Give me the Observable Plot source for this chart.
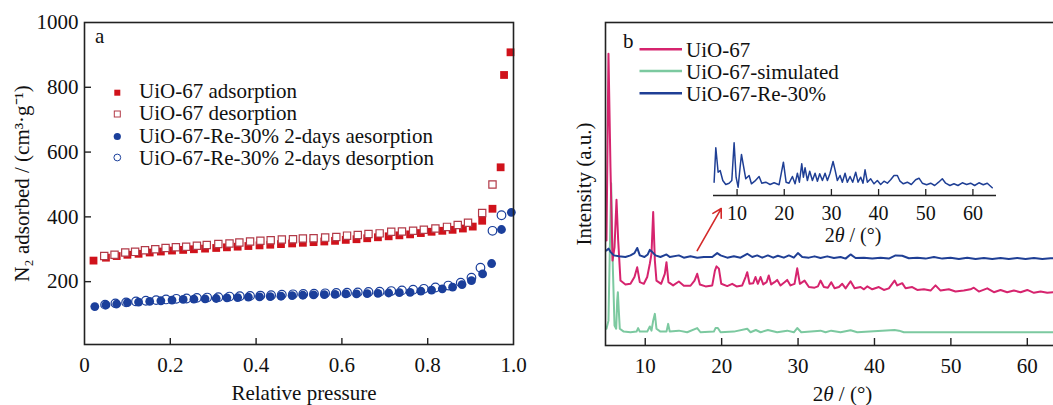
<!DOCTYPE html>
<html><head><meta charset="utf-8">
<script src="https://cdn.jsdelivr.net/npm/d3@7"></script>
<script src="https://cdn.jsdelivr.net/npm/@observablehq/plot@0.6"></script>
<style>
html,body{margin:0;padding:0;background:#fff;overflow:hidden;}
#wrap{position:relative;width:1053px;height:405px;overflow:hidden;font-family:"Liberation Serif","Times New Roman",serif;}
#wrap > div{position:absolute;}
#wrap svg{max-width:none !important;}
#leg{position:absolute;left:0;top:0;pointer-events:none;}
</style></head>
<body><div id="wrap">
<div id="pa" style="left:0;top:0;width:530px;height:405px"></div>
<div id="pb" style="left:530px;top:0;width:543px;height:405px"></div>
<div id="inset" style="left:700px;top:130px;width:310px;height:125px"></div>
<svg id="leg" width="1053" height="405"></svg>
</div>
<script>
// ---------- Panel a: N2 isotherms ----------
const pressureTicks = [0, 0.2, 0.4, 0.6, 0.8, 1.0];
const volumeTicks = [200, 400, 600, 800, 1000];

const uioAdsP = [0.021,0.05,0.075,0.1,0.126,0.152,0.178,0.204,0.23,0.255,0.281,0.307,0.332,0.357,0.382,0.408,0.433,0.458,0.484,0.509,0.534,0.559,0.584,0.609,0.634,0.659,0.684,0.709,0.734,0.759,0.784,0.809,0.834,0.858,0.882,0.905,0.927,0.951,0.970,0.978,0.993];
const uioAdsV = [265,274,279,283,286,290,293,296,298,300,302,304,306,308,310,312,314,316,318,320,322,324,326,329,331,334,337,340,343,346,350,354,357,360,364,370,388,425,553,838,908];

const uioDesP = [0.046,0.07,0.095,0.118,0.141,0.165,0.189,0.213,0.237,0.262,0.285,0.312,0.338,0.361,0.386,0.41,0.434,0.46,0.486,0.509,0.534,0.561,0.587,0.612,0.637,0.662,0.688,0.715,0.74,0.766,0.791,0.818,0.845,0.87,0.894,0.927,0.951];
const uioDesV = [279,283,290,292,297,300,304,306,308,311,313,316,318,321,324,326,328,330,331,333,334,336,338,342,344,347,349,354,355,357,360,364,369,375,382,412,500];

const reAdsP = [0.024,0.05,0.075,0.1,0.126,0.152,0.178,0.204,0.23,0.255,0.281,0.307,0.332,0.357,0.382,0.408,0.433,0.458,0.484,0.509,0.534,0.559,0.584,0.609,0.634,0.659,0.684,0.709,0.734,0.759,0.784,0.809,0.834,0.858,0.88,0.902,0.928,0.949,0.972,0.995];
const reAdsV = [123,128,131,135,137,139,141,143,145,146,147,148,150,151,152,153,154,155,157,158,159,160,161,162,162,163,164,165,166,167,171,174,178,183,191,203,224,256,361,414];

const reDesP = [0.048,0.072,0.097,0.12,0.143,0.167,0.19,0.214,0.238,0.262,0.286,0.312,0.338,0.362,0.386,0.41,0.435,0.46,0.486,0.51,0.535,0.561,0.587,0.612,0.637,0.662,0.688,0.715,0.74,0.766,0.791,0.818,0.848,0.877,0.902,0.923,0.951,0.972];
const reDesV = [129,133,136,139,141,143,145,147,148,150,151,152,154,155,156,157,158,160,161,162,163,164,165,166,167,168,169,171,173,175,178,182,188,197,212,243,357,405];

const seriesA = ["UiO-67 adsorption", "UiO-67 desorption", "UiO-67-Re-30% 2-days aesorption", "UiO-67-Re-30% 2-days desorption"];

// ---------- Panel b: XRD patterns ----------
const angleTicks = [10, 20, 30, 40, 50, 60];
const seriesB = ["UiO-67", "UiO-67-simulated", "UiO-67-Re-30%"];

const xrdUiO = [[4.93,32.5],[5.19,90.3],[5.45,55.2],[5.72,26.3],[5.98,30.4],[6.24,45.1],[6.46,32.5],[6.76,20.1],[7.41,18.9],[8.07,19.1],[8.59,21.2],[8.95,24.2],[9.29,19.6],[9.82,19.1],[10.26,21.2],[10.6,25.3],[10.82,28.4],[11.04,41.3],[11.26,26.3],[11.47,20.1],[12.08,19.1],[12.56,22.2],[12.78,25.8],[13.04,19.6],[13.65,18.6],[14.4,19.8],[15.05,18.5],[15.92,18.5],[16.45,20.1],[16.8,22.2],[17.15,18.9],[17.9,18.3],[18.77,18.6],[19.12,23.2],[19.33,24.5],[19.64,23.8],[19.95,19.1],[20.73,18.4],[21.38,19.1],[21.95,18.3],[22.69,18.6],[23.13,21.2],[23.35,22.7],[23.65,19.1],[24.13,19.3],[24.43,21.2],[24.74,19.1],[25.09,21.2],[25.44,18.9],[25.88,19.6],[26.17,21.7],[26.48,18.9],[26.92,19.6],[27.27,20.3],[27.7,18.6],[28.23,19.6],[28.58,20.3],[29.01,18.6],[29.54,19.1],[29.89,23.9],[30.24,19.1],[30.85,20.1],[31.42,18.1],[32.16,17.9],[32.6,18.3],[32.94,20.1],[33.38,18.1],[33.9,17.9],[34.34,19.6],[34.78,17.7],[35.35,18.1],[35.78,19.1],[36.22,17.7],[36.87,19.9],[37.4,17.7],[38.18,18.1],[38.62,17.4],[39.05,18.3],[39.71,17.4],[40.57,18.1],[41.23,17.2],[41.88,17.7],[42.63,20.1],[42.98,18.6],[43.63,19.3],[44.07,17.7],[44.94,18.1],[45.6,17.2],[46.47,17.4],[47.34,17.0],[47.99,18.6],[48.65,17.0],[49.73,17.4],[50.6,16.7],[51.69,17.0],[52.57,17.4],[53.0,17.9],[53.66,16.7],[54.76,17.7],[55.63,16.5],[56.5,17.2],[57.37,16.5],[58.24,17.0],[59.12,16.5],[60.0,17.2],[60.87,16.3],[61.74,16.7],[62.61,16.3],[63.4,16.5],[64.5,16.4]];

const xrdSimulated = [[4.93,5.2],[5.19,7.7],[5.32,24.2],[5.54,50.2],[5.76,24.2],[5.98,6.2],[6.2,5.2],[6.33,13.9],[6.42,16.5],[6.54,10.8],[6.67,5.2],[7.19,4.3],[8.07,4.1],[8.86,4.3],[9.07,5.4],[9.29,4.3],[10.26,4.3],[10.6,5.9],[10.82,4.6],[11.04,7.7],[11.26,9.8],[11.47,5.2],[11.99,4.3],[12.78,4.3],[13.0,6.7],[13.21,4.3],[14.4,4.6],[15.49,4.1],[16.8,5.4],[17.23,4.1],[18.98,4.3],[19.2,5.4],[19.5,5.4],[19.86,4.1],[21.6,4.3],[23.35,5.2],[23.78,4.1],[24.48,4.8],[25.09,4.1],[26.05,4.8],[27.27,4.1],[28.58,4.6],[29.45,4.1],[29.89,5.4],[30.42,4.1],[32.94,4.6],[33.6,4.1],[34.34,4.6],[35.56,4.1],[36.87,4.7],[37.75,4.1],[42.63,4.8],[43.2,4.6],[43.85,4.1],[47.34,4.1],[51.69,4.1],[56.06,4.1],[60.44,4.1],[63.49,4.1],[64.5,4.1]];

const xrdRe30 = [[4.93,29.4],[5.19,30.0],[5.45,29.0],[5.89,27.9],[6.54,27.6],[7.41,27.4],[8.07,27.9],[8.59,28.6],[8.95,30.2],[9.29,27.9],[9.9,27.4],[10.33,28.2],[10.6,29.6],[10.9,29.0],[11.34,27.9],[11.99,27.4],[12.78,28.2],[13.21,27.4],[14.4,27.9],[15.05,27.2],[15.92,27.6],[16.8,27.2],[17.67,27.4],[18.77,27.4],[19.42,28.6],[19.86,27.9],[20.73,27.2],[21.6,27.6],[22.47,27.2],[23.35,28.4],[24.0,27.4],[24.65,27.9],[25.31,27.2],[26.05,27.9],[26.75,27.2],[27.36,27.8],[28.14,27.2],[28.8,27.9],[29.45,27.2],[29.98,28.6],[30.55,27.4],[31.42,27.2],[32.16,27.6],[32.94,27.1],[33.82,27.6],[34.69,27.1],[35.56,27.4],[36.22,26.9],[36.87,28.2],[37.53,27.1],[38.62,27.2],[39.71,26.9],[40.8,27.2],[41.88,26.9],[42.76,27.9],[43.63,27.8],[44.5,27.0],[45.6,27.2],[46.69,26.9],[47.78,27.4],[48.87,26.9],[49.96,27.2],[51.05,26.8],[52.14,27.2],[53.23,26.8],[54.32,27.1],[55.41,26.8],[56.5,27.1],[57.59,26.8],[58.68,27.1],[59.77,26.8],[60.87,27.1],[61.96,26.8],[63.05,27.0],[64.5,26.9]];

// inset: UiO-67-Re-30% pattern enlarged
const insetTicks = [10, 20, 30, 40, 50, 60];
const insetRe30 = [[5.13,13.3],[5.49,47.7],[5.98,23.3],[6.41,25],[6.97,15],[7.6,11],[8.31,12.3],[8.88,15],[9.37,52.7],[9.79,18.3],[10.22,8.3],[10.64,28.3],[10.93,41],[11.28,31.7],[11.84,16.7],[12.55,20],[13.04,11.7],[13.75,14.3],[14.67,19],[15.23,12.3],[16.08,13.3],[17.0,11],[17.85,12.7],[18.9,10.7],[19.82,33.3],[20.39,13.3],[21.02,12.3],[21.73,19],[22.29,11.7],[22.79,22.3],[23.21,13.3],[23.71,31.7],[24.06,18.3],[24.41,27.7],[24.91,15],[25.4,24.3],[25.97,15],[26.53,22.3],[27.03,14.3],[27.52,21.7],[28.09,15],[28.65,22.3],[29.15,15],[29.71,22.3],[30.35,34],[30.77,25.7],[31.26,15],[31.83,20],[32.32,13.3],[32.89,22.3],[33.38,13.3],[33.95,19],[34.51,13.3],[35.15,23.3],[35.64,13.3],[36.21,18.3],[36.7,12.3],[37.13,25.7],[37.62,13.3],[38.33,16.7],[39.03,11.7],[39.74,15],[40.44,11],[41.15,14.3],[41.86,12.3],[42.56,15.7],[43.27,20],[43.98,20],[44.54,14.3],[45.25,11.7],[46.1,13.3],[46.94,11],[47.86,15.7],[48.57,17.3],[49.27,12.3],[50.19,10.7],[51.04,12.3],[51.89,10],[52.73,13.3],[53.51,16.7],[54.22,12.3],[55.13,10],[55.98,11.7],[56.83,10],[57.75,12.7],[58.67,11],[59.51,12.3],[60.36,10],[61.28,12.7],[62.2,10.7],[63.04,12.3],[64.1,7.7]];

// arrow pointing from the Re-30% trace to the inset (data coordinates)
const arrowLink = [{x1: 16.8, y1: 29.4, x2: 19.94, y2: 42.4}];

// ---------- styling ----------
const FONT = '"Liberation Serif","Times New Roman",serif';
const RED = "#d0121b", RED_EDGE = "#b23a48", NAVY = "#1b3f9b";
const PINK = "#d6246e", GREEN = "#7cc9a0", BLUE = "#1f3f95", AXIS = "#222";
const baseStyle = (fs) => ({fontFamily: FONT, fontSize: fs, color: "#111", background: "transparent", overflow: "visible", maxWidth: "none"});

const toRows = (xs, ys) => xs.map((x, i) => ({x, y: ys[i]}));

const plotA = Plot.plot({
  width: 530, height: 405,
  marginLeft: 84, marginRight: 17, marginTop: 22, marginBottom: 61,
  style: baseStyle("21px"),
  x: {domain: [0, 1]},
  y: {domain: [6, 1000]},
  marks: [
    Plot.axisX(pressureTicks, {tickSize: 0, tickPadding: 13, fontSize: 21, label: null, tickFormat: d => d === 0 ? "0" : d.toFixed(1)}),
    Plot.axisY(volumeTicks, {tickSize: 0, tickPadding: 6, fontSize: 21, label: null, tickFormat: d => String(d)}),
    Plot.tickX(pressureTicks.slice(1, -1), {x: d => d, insetTop: 316, stroke: AXIS, strokeWidth: 1.4}),
    Plot.tickY(volumeTicks.slice(0, -1), {y: d => d, insetRight: 422, stroke: AXIS, strokeWidth: 1.4}),
    Plot.dot(toRows(uioAdsP, uioAdsV), {x: "x", y: "y", symbol: "square", r: 4.4, fill: RED}),
    Plot.dot(toRows(uioDesP, uioDesV), {x: "x", y: "y", symbol: "square", r: 4.1, fill: "white", stroke: RED_EDGE, strokeWidth: 1.2}),
    Plot.dot(toRows(reDesP, reDesV), {x: "x", y: "y", symbol: "circle", r: 4.3, fill: "white", stroke: NAVY, strokeWidth: 1.2}),
    Plot.dot(toRows(reAdsP, reAdsV), {x: "x", y: "y", symbol: "circle", r: 4.4, fill: NAVY}),
    Plot.frame({stroke: AXIS, strokeWidth: 1.6}),
    Plot.text(["Relative pressure"], {frameAnchor: "bottom", dx: 5, dy: 49, text: d => d, fontSize: 21, lineAnchor: "middle", textAnchor: "middle"}),
    Plot.text(["N₂ adsorbed / (cm³·g⁻¹)"], {frameAnchor: "left", dx: -62, rotate: -90, text: d => d, fontSize: 21, lineAnchor: "middle", textAnchor: "middle"})
  ]
});
document.getElementById("pa").append(plotA);

const plotB = Plot.plot({
  width: 543, height: 405,
  marginLeft: 75, marginRight: 8, marginTop: 22, marginBottom: 60,
  style: baseStyle("21px"),
  x: {domain: [4.8, 65]},
  y: {domain: [0, 100], axis: null},
  marks: [
    Plot.axisX(angleTicks, {tickSize: 0, tickPadding: 13, fontSize: 21, label: null}),
    Plot.tickX(angleTicks, {x: d => d, insetTop: 316, stroke: AXIS, strokeWidth: 1.4}),
    Plot.line(xrdSimulated, {x: d => d[0], y: d => d[1], stroke: GREEN, strokeWidth: 2}),
    Plot.line(xrdUiO, {x: d => d[0], y: d => d[1], stroke: PINK, strokeWidth: 2}),
    Plot.line(xrdRe30, {x: d => d[0], y: d => d[1], stroke: BLUE, strokeWidth: 2}),
    Plot.arrow(arrowLink, {x1: "x1", y1: "y1", x2: "x2", y2: "y2", stroke: "#d42a2a", strokeWidth: 1.6, headLength: 9}),
    Plot.frame({stroke: AXIS, strokeWidth: 1.6}),
    Plot.text(["2θ / (°)"], {frameAnchor: "bottom", dx: 7, dy: 49, text: d => d, fontSize: 21, lineAnchor: "middle", textAnchor: "middle"}),
    Plot.text(["Intensity (a.u.)"], {frameAnchor: "left", dx: -21, rotate: -90, text: d => d, fontSize: 21, lineAnchor: "middle", textAnchor: "middle"})
  ]
});
document.getElementById("pb").append(plotB);

const plotInset = Plot.plot({
  width: 310, height: 125,
  marginLeft: 13, marginRight: 14, marginTop: 10, marginBottom: 60,
  style: baseStyle("20px"),
  x: {domain: [5, 65]},
  y: {domain: [0, 55], axis: null},
  marks: [
    Plot.line(insetRe30, {x: d => d[0], y: d => d[1], stroke: BLUE, strokeWidth: 1.5}),
    Plot.ruleY([0], {stroke: AXIS, strokeWidth: 1.5}),
    Plot.tickX(insetTicks, {x: d => d, insetTop: 49, stroke: AXIS, strokeWidth: 1.3}),
    Plot.axisX(insetTicks, {tickSize: 0, tickPadding: 10, fontSize: 20, label: null}),
    Plot.text(["2θ / (°)"], {frameAnchor: "bottom", dx: -2, dy: 40, text: d => d, fontSize: 20, lineAnchor: "middle", textAnchor: "middle"})
  ]
});
document.getElementById("inset").append(plotInset);

// italic theta
function italicTheta(root) {
  root.querySelectorAll("text, tspan").forEach(el => {
    [...el.childNodes].forEach(n => {
      if (n.nodeType === 3 && n.nodeValue.includes("θ")) {
        const parts = n.nodeValue.split("θ");
        const frag = document.createDocumentFragment();
        parts.forEach((p, i) => {
          if (i > 0) {
            const t = document.createElementNS("http://www.w3.org/2000/svg", "tspan");
            t.setAttribute("font-style", "italic");
            t.textContent = "θ";
            frag.append(t);
          }
          if (p) frag.append(document.createTextNode(p));
        });
        n.replaceWith(frag);
      }
    });
  });
}
italicTheta(plotB); italicTheta(plotInset);

// legends and panel letters
const leg = d3.select("#leg").style("font-family", FONT).style("font-size", "21px");
const legAy = [92.7, 114, 136.5, 157.5];
const legAbase = [97.5, 120, 142.5, 165];
leg.append("rect").attr("x", 114.3).attr("y", legAy[0] - 3).attr("width", 6).attr("height", 6).attr("fill", RED);
leg.append("rect").attr("x", 114.3).attr("y", legAy[1] - 3).attr("width", 6).attr("height", 6).attr("fill", "white").attr("stroke", RED_EDGE).attr("stroke-width", 1);
leg.append("circle").attr("cx", 117.3).attr("cy", legAy[2]).attr("r", 3.6).attr("fill", NAVY);
leg.append("circle").attr("cx", 117.3).attr("cy", legAy[3]).attr("r", 3.4).attr("fill", "white").attr("stroke", NAVY).attr("stroke-width", 1);
seriesA.forEach((s, i) => leg.append("text").attr("x", 139).attr("y", legAbase[i]).attr("fill", "#111").text(s));

const colorsB = [PINK, GREEN, BLUE];
const legBy = [49.3, 71, 93.3];
const legBbase = [57, 79, 101];
seriesB.forEach((s, i) => {
  leg.append("line").attr("x1", 639.5).attr("x2", 682).attr("y1", legBy[i]).attr("y2", legBy[i]).attr("stroke", colorsB[i]).attr("stroke-width", 2.6);
  leg.append("text").attr("x", 686).attr("y", legBbase[i]).attr("fill", "#111").text(s);
});
leg.append("text").attr("x", 95).attr("y", 43).attr("fill", "#111").text("a");
leg.append("text").attr("x", 623).attr("y", 48).attr("fill", "#111").text("b");
</script>
</body></html>
